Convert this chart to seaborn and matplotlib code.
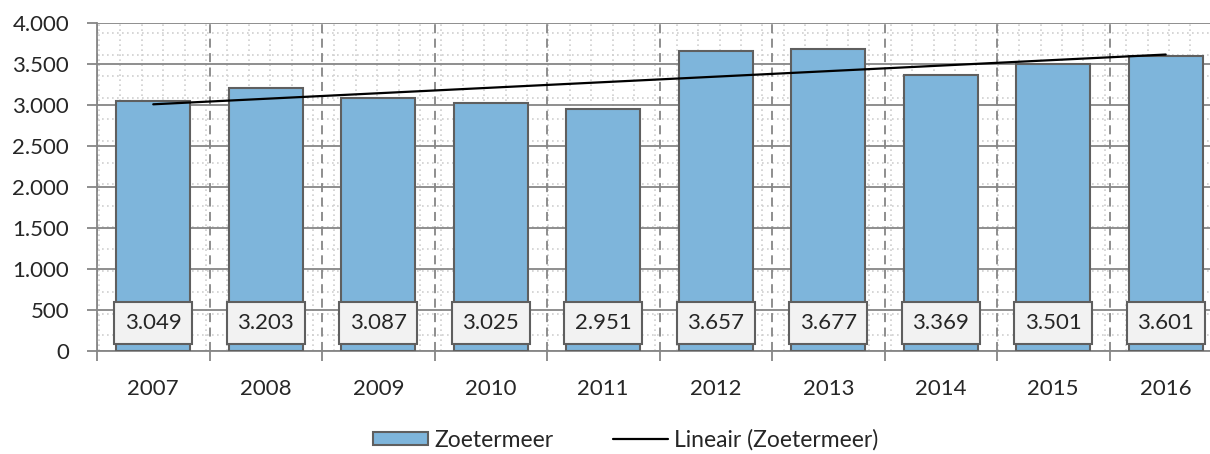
import matplotlib
matplotlib.use('Agg')
import matplotlib.pyplot as plt
import matplotlib.ticker as mticker
from matplotlib.lines import Line2D
from matplotlib.patches import Patch
import numpy as np
import pandas as pd
import seaborn as sns

years = ['2007', '2008', '2009', '2010', '2011', '2012', '2013', '2014', '2015', '2016']
values = [3049, 3203, 3087, 3025, 2951, 3657, 3677, 3369, 3501, 3601]
series_name = 'Zoetermeer'
trend_name = 'Lineair (Zoetermeer)'

BAR_COLOR = '#7EB5DB'
EDGE = '#5F5F5F'
GRID = '#868686'

sns.set_style('white')
plt.rcParams['font.family'] = ['Lato', 'DejaVu Sans']

df = pd.DataFrame({'year': years, 'value': values})

fig = plt.figure(figsize=(12.1, 4.54), dpi=100)
ax = fig.add_axes([97 / 1210, 103 / 454, 1125 / 1210, 328 / 454])

# excel-like dotted background pattern (styling only)
px_y = 328 / 4000
for yp in np.arange(33, 352, 21.6):
    ax.axhline((351 - yp) / px_y, color='#CFCFCF', lw=1.2, ls=(0, (1, 2)), zorder=0)
for xp in np.arange(99, 1222, 21.4):
    ax.axvline((xp - 97) / 112.5 - 0.5, color='#CFCFCF', lw=1.2, ls=(0, (1, 2)), zorder=0)

sns.barplot(data=df, x='year', y='value', ax=ax, color=BAR_COLOR, saturation=1,
            width=0.66, edgecolor=EDGE, linewidth=1.5, zorder=3)

# linear trendline
xs = np.arange(len(values))
slope, icpt = np.polyfit(xs, values, 1)
sns.lineplot(x=xs, y=slope * xs + icpt, ax=ax, color='black', lw=1.6, zorder=4)

# value labels
for i, v in enumerate(values):
    ax.text(i, 340, f'{v:,}'.replace(',', '.'), ha='center', va='center', fontsize=16,
            zorder=5, bbox=dict(boxstyle='square,pad=0.48', fc='#F2F2F2', ec=EDGE, lw=1.5))

ax.set_xlim(-0.5, 9.5)
ax.set_ylim(0, 4000)
ax.yaxis.set_major_locator(mticker.MultipleLocator(500))
ax.yaxis.set_major_formatter(mticker.FuncFormatter(lambda v, p: f'{int(v):,}'.replace(',', '.')))
ax.xaxis.set_minor_locator(mticker.FixedLocator(np.arange(-0.5, 10, 1)))
ax.grid(axis='y', which='major', color=GRID, lw=1.3, zorder=1)
ax.grid(axis='x', which='minor', color=GRID, lw=1.3, ls=(0, (5, 3)), zorder=1)
ax.set_axisbelow(True)

ax.tick_params(axis='x', which='major', length=0, pad=20, labelsize=16)
ax.tick_params(axis='x', which='minor', length=7, width=1.3, color=GRID, direction='out', bottom=True)
ax.tick_params(axis='y', length=7, width=1.3, color=GRID, direction='out', pad=13, labelsize=16, left=True)
ax.set_xlabel('')
ax.set_ylabel('')

for s in ['top', 'right']:
    ax.spines[s].set_visible(False)
for s in ['left', 'bottom']:
    ax.spines[s].set_color(GRID)
    ax.spines[s].set_linewidth(1.3)

handles = [Patch(facecolor=BAR_COLOR, edgecolor=EDGE, lw=1.5),
           Line2D([0], [0], color='black', lw=1.6)]
fig.legend(handles, [series_name, trend_name], loc='center', bbox_to_anchor=(0.517, 1 - 440 / 454),
           ncol=2, frameon=False, fontsize=16.5, handlelength=2.4, handleheight=0.5,
           handletextpad=0.25, columnspacing=2.6)

fig.savefig('out.png', dpi=100)
